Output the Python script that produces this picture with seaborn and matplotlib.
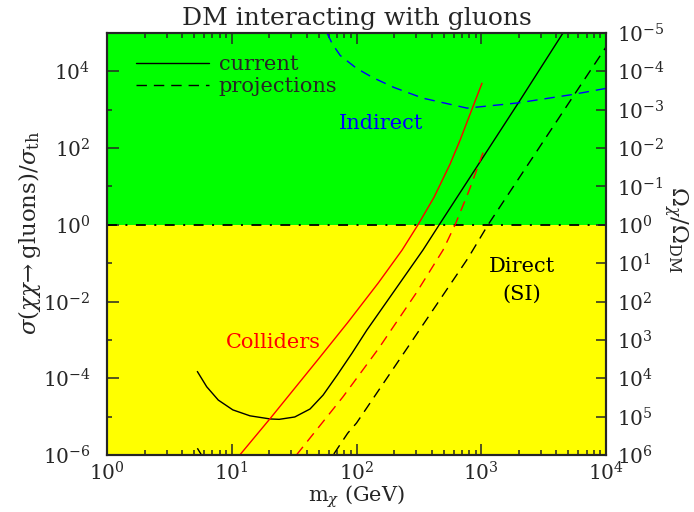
import numpy as np
import pandas as pd
import matplotlib
matplotlib.use("Agg")
import matplotlib.pyplot as plt
from matplotlib.lines import Line2D
from matplotlib.ticker import FixedLocator, FuncFormatter, NullLocator, LogLocator, NullFormatter
import seaborn as sns

# ---- data: DM mass (GeV) vs sigma(chi chi -> gluons)/sigma_th ----
direct_now_m = [5.3, 6.3, 7.8, 10.2, 14, 20.3, 24, 32, 42.4, 54, 70, 92, 121, 341, 460, 2040, 4520]
direct_now_s = [1.5e-4, 6.0e-5, 2.7e-5, 1.5e-5, 1.05e-5, 8.7e-6, 8.5e-6, 9.8e-6, 1.58e-5,
                3.65e-5, 1.21e-4, 4.5e-4, 1.8e-3, 0.22, 1.0, 1740, 1e5]

direct_proj_m = [5.3, 6.3, 7.8, 10.2, 20, 32, 42, 54, 65, 85, 100, 783, 1133, 5630, 1e4]
direct_proj_s = [1.5e-6, 6.0e-7, 2.7e-7, 1.5e-7, 8e-8, 1e-7, 1.6e-7, 3.6e-7, 1e-6,
                 3.7e-6, 6.8e-6, 0.135, 1.0, 2600, 4.3e4]

coll_now_m = [11.6, 20.3, 50, 85.5, 150, 232, 311, 418, 562, 676, 815, 1014]
coll_now_s = [1e-6, 8.9e-6, 3.3e-4, 2.9e-3, 0.031, 0.22, 1.0, 5.2, 38, 160, 780, 4900]

coll_proj_m = [33, 78, 150, 300, 494, 617, 800, 1033]
coll_proj_s = [1e-6, 3.3e-5, 5.9e-4, 0.0164, 0.22, 1.0, 7.9, 76]

indir_proj_m = [58, 64, 74, 100, 135, 200, 341, 770, 1950, 5430, 1e4]
indir_proj_s = [1e5, 5.2e4, 2.6e4, 1.2e4, 6900, 3800, 2000, 1100, 1500, 2500, 3600]

x_range = (1, 1e4)
y_range = (1e-6, 1e5)

sns.set_style("ticks")
plt.rcParams["font.family"] = ["DejaVu Serif"]
plt.rcParams["mathtext.fontset"] = "dejavuserif"

fig = plt.figure(figsize=(6.94, 5.12), dpi=100)
ax = fig.add_axes([107 / 694, 57 / 512, 499 / 694, 422 / 512])
ax.set_xscale("log")
ax.set_yscale("log")
ax.set_xlim(*x_range)
ax.set_ylim(*y_range)

# thermal line splits over-/under-abundant regions
ax.axhspan(1, y_range[1], color="#00ff00", zorder=0, lw=0)
ax.axhspan(y_range[0], 1, color="#ffff00", zorder=0, lw=0)
ax.axhline(1, color="black", lw=1.3, ls=(0, (5.5, 4.7, 1.1, 4.7)), zorder=1)

solid = "-"
dashed = (0, (7.5, 5))
curves = [
    (direct_now_m, direct_now_s, "black", solid),
    (direct_proj_m, direct_proj_s, "black", dashed),
    (coll_now_m, coll_now_s, "red", solid),
    (coll_proj_m, coll_proj_s, "red", dashed),
    (indir_proj_m, indir_proj_s, "blue", dashed),
]
for m, s, c, ls in curves:
    df = pd.DataFrame({"m": m, "s": s})
    sns.lineplot(data=df, x="m", y="s", ax=ax, color=c, lw=1.0, linestyle=ls,
                 sort=False, estimator=None, zorder=3)

ax.set_xlim(*x_range)
ax.set_ylim(*y_range)

fs = 15
tfs = 14.5
ax.text(157, 443, "Indirect", color="blue", fontsize=fs, ha="center", va="center")
ax.text(2120, 0.036, "Direct\n(SI)", color="black", fontsize=fs, ha="center", va="center",
        linespacing=1.6)
ax.text(21.5, 8.7e-4, "Colliders", color="red", fontsize=fs, ha="center", va="center")

handles = [Line2D([], [], color="black", lw=1.0, ls=solid),
           Line2D([], [], color="black", lw=1.0, ls=dashed)]
ax.legend(handles, ["current", "projections"], loc="upper left",
          bbox_to_anchor=(0.058, 0.948), frameon=False, fontsize=fs,
          handlelength=3.5, handletextpad=0.48, labelspacing=0.17, borderpad=0.0,
          borderaxespad=0.0)

def pow10(v, pos):
    e = int(round(np.log10(v)))
    return r"$10^{%d}$" % e

# x axis: decades with 2..9 minor ticks, ticks on both sides
ax.xaxis.set_major_locator(FixedLocator([1, 10, 100, 1000, 10000]))
ax.xaxis.set_major_formatter(FuncFormatter(pow10))
ax.xaxis.set_minor_locator(LogLocator(base=10, subs=np.arange(2, 10), numticks=20))
ax.xaxis.set_minor_formatter(NullFormatter())

# left axis: labelled even decades, short ticks on odd decades
ax.yaxis.set_major_locator(FixedLocator([1e-6, 1e-4, 1e-2, 1, 1e2, 1e4]))
ax.yaxis.set_major_formatter(FuncFormatter(pow10))
ax.yaxis.set_minor_locator(FixedLocator([1e-5, 1e-3, 1e-1, 1e1, 1e3, 1e5]))
ax.yaxis.set_minor_formatter(NullFormatter())

ax.tick_params(axis="x", which="both", direction="in", top=True, bottom=True,
               labelsize=tfs, pad=4.5, width=1.1)
ax.tick_params(axis="x", which="major", length=8)
ax.tick_params(axis="x", which="minor", length=3.6)
ax.tick_params(axis="y", which="both", direction="in", left=True, right=False,
               labelsize=tfs, pad=12, width=1.1)
ax.tick_params(axis="y", which="major", length=8.6)
ax.tick_params(axis="y", which="minor", length=3.6)

for sp in ax.spines.values():
    sp.set_linewidth(1.5)
    sp.set_visible(True)

# right axis: relic abundance Omega_chi/Omega_DM = sigma_th/sigma
ax2 = ax.twinx()
ax2.set_yscale("log")
ax2.set_ylim(1 / y_range[0], 1 / y_range[1])
ax2.yaxis.set_major_locator(FixedLocator([10.0 ** k for k in range(-5, 7)]))
ax2.yaxis.set_major_formatter(FuncFormatter(pow10))
ax2.yaxis.set_minor_locator(NullLocator())
ax2.tick_params(axis="y", which="major", direction="in", length=7, width=1.1,
                labelsize=tfs, pad=8)
for sp in ax2.spines.values():
    sp.set_linewidth(1.5)

ax.set_title("DM interacting with gluons", fontsize=18, pad=6)
ax.set_xlabel(r"m$_\chi$ (GeV)", fontsize=15)
ax.xaxis.set_label_coords(0.5, -0.068)
ax.set_ylabel(r"$\sigma(\chi\chi\!\rightarrow$gluons$)/\sigma_{\rm th}$", fontsize=16.5)
ax.yaxis.set_label_coords(-0.128, 0.526)
fig.text(675 / 694, 1 - 229 / 512, r"$\Omega_\chi/\Omega_{\rm DM}$", fontsize=16.5,
         rotation=270, ha="center", va="center")

fig.savefig("out.png", dpi=100)
